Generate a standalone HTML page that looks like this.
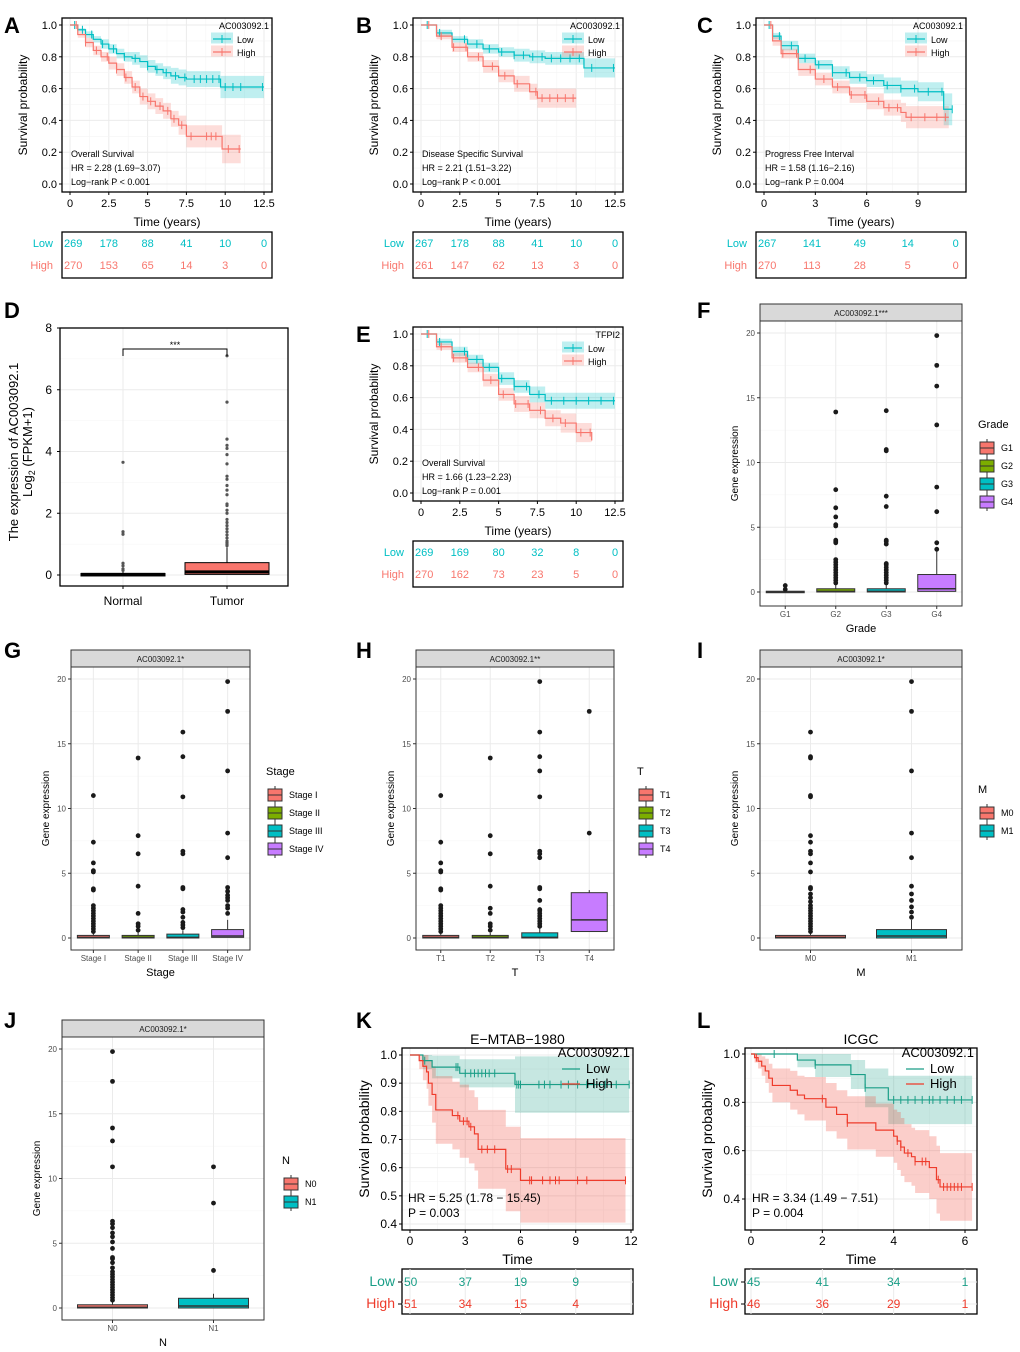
<!DOCTYPE html>
<html><head><meta charset="utf-8">
<style>
html,body{margin:0;padding:0;background:#fff;}
svg{display:block;font-family:"Liberation Sans",Arial,sans-serif;}
</style></head>
<body>
<svg id="fig" width="1020" height="1352" viewBox="0 0 1020 1352" xmlns="http://www.w3.org/2000/svg"></svg>
<script>
// ---------------- DATA ----------------
const A_lowT=[0,0.5,1,1.5,2,2.5,3,3.5,4,4.5,5,5.5,6,6.5,7,7.5,8,9.7,12.5];
const A_lowS=[1,0.97,0.94,0.91,0.88,0.85,0.82,0.8,0.79,0.77,0.74,0.72,0.7,0.68,0.67,0.66,0.66,0.61,0.61];
const A_lowW=[0,0.01,0.02,0.02,0.03,0.03,0.03,0.03,0.04,0.04,0.04,0.04,0.04,0.05,0.05,0.05,0.05,0.07,0.07];
const A_lowC=[0.3,0.8,1.4,2.1,2.8,3.5,4.2,5,5.6,6.2,6.8,7.4,8,8.4,8.8,9.2,9.6,10,10.5,11,12.4];
const A_highT=[0,0.5,1,1.5,2,2.5,3,3.5,4,4.5,5,5.5,6,6.5,7,7.5,9.8,11];
const A_highS=[1,0.94,0.89,0.84,0.8,0.76,0.72,0.67,0.61,0.55,0.52,0.49,0.46,0.41,0.37,0.3,0.22,0.22];
const A_highW=[0,0.02,0.03,0.03,0.03,0.04,0.04,0.04,0.04,0.05,0.05,0.05,0.05,0.05,0.06,0.07,0.09,0.09];
const A_highC=[0.4,1,1.7,2.4,3,3.6,4.2,4.7,5.2,5.8,6.3,6.7,7.2,7.8,8.8,9.1,9.4,10.2,10.9];
const A_riskLow=[269,178,88,41,10,0], A_riskHigh=[270,153,65,14,3,0];
const B_lowT=[0,1,2,3,4,5,6,7,8,10,10.5,12.5];
const B_lowS=[1,0.95,0.91,0.88,0.85,0.83,0.81,0.8,0.79,0.79,0.73,0.73];
const B_lowW=[0,0.02,0.02,0.03,0.03,0.03,0.04,0.04,0.04,0.04,0.06,0.06];
const B_lowC=[0.4,1.2,2,2.8,3.6,4.4,5.2,6,6.6,7.2,7.8,8.4,9,9.6,10.2,11,12.4];
const B_highT=[0,1,2,3,4,5,6,7,7.5,10];
const B_highS=[1,0.93,0.86,0.8,0.74,0.68,0.63,0.58,0.54,0.54];
const B_highW=[0,0.02,0.03,0.03,0.04,0.04,0.05,0.05,0.06,0.06];
const B_highC=[0.5,1.3,2.1,2.9,3.7,4.6,5.4,6.2,7.4,7.8,8.3,8.8,9.3,9.8];
const B_riskLow=[267,178,88,41,10,0], B_riskHigh=[261,147,62,13,3,0];
const C_lowT=[0,0.5,1,2,3,4,5,6,7,8,9,10,10.5,11];
const C_lowS=[1,0.93,0.87,0.79,0.75,0.7,0.67,0.65,0.62,0.6,0.58,0.58,0.47,0.47];
const C_lowW=[0,0.02,0.03,0.03,0.03,0.04,0.04,0.04,0.05,0.05,0.06,0.06,0.1,0.1];
const C_lowC=[0.3,0.9,1.6,2.4,3.2,4,4.8,5.6,6.4,7.2,8,8.8,9.6,10.4,11];
const C_highT=[0,0.5,1,2,3,4,5,6,7,8,8.3,10.8];
const C_highS=[1,0.9,0.82,0.72,0.66,0.61,0.56,0.52,0.48,0.45,0.42,0.42];
const C_highW=[0,0.03,0.03,0.04,0.04,0.04,0.05,0.05,0.05,0.06,0.07,0.07];
const C_highC=[0.4,1.1,1.9,2.7,3.5,4.3,5.1,5.9,6.7,7.3,7.8,8.6,9.4,10.1,10.6];
const C_riskT=[0,2.8,5.6,8.4,11.2];
const C_riskLow=[267,141,49,14,0], C_riskHigh=[270,113,28,5,0];
const E_lowT=[0,1,2,3,4,5,6,7,8,10,12.5];
const E_lowS=[1,0.95,0.89,0.84,0.79,0.72,0.67,0.62,0.58,0.58,0.58];
const E_lowW=[0,0.02,0.03,0.03,0.03,0.04,0.04,0.05,0.05,0.05,0.05];
const E_lowC=[0.4,1.2,2,2.8,3.6,4.4,5.2,6,6.8,7.6,8.4,9.2,10,10.8,11.6,12.4];
const E_highT=[0,1,2,3,4,5,6,7,8,9,10,11];
const E_highS=[1,0.92,0.85,0.79,0.71,0.62,0.56,0.52,0.47,0.44,0.38,0.33];
const E_highW=[0,0.02,0.03,0.03,0.04,0.04,0.05,0.05,0.05,0.06,0.06,0.07];
const E_highC=[0.5,1.3,2.1,2.9,3.7,4.5,5.3,6.1,6.9,7.7,8.5,9.3,10.3,10.9];
const E_riskLow=[269,169,80,32,8,0], E_riskHigh=[270,162,73,23,5,0];
const K_lowT=[0,0.7,1.2,2.7,5.7,11.9];
const K_lowS=[1,0.98,0.957,0.935,0.895,0.895];
const K_lowW=[0,0.03,0.04,0.05,0.1,0.1];
const K_lowC=[0.8,2.5,2.6,3,3.3,3.5,3.7,3.9,4.1,4.3,4.6,5.8,5.9,6,7,7.3,7.6,8.2,8.6,9.1,9.6,10,10.6,11.2,11.9];
const K_highT=[0,0.5,0.7,0.9,1,1.2,1.4,2.3,2.7,3.2,3.5,3.7,5.2,6,11.7];
const K_highS=[1,0.98,0.96,0.94,0.9,0.86,0.805,0.785,0.765,0.745,0.72,0.665,0.595,0.555,0.555];
const K_highW=[0,0.03,0.05,0.06,0.08,0.1,0.12,0.12,0.13,0.13,0.13,0.14,0.15,0.15,0.15];
const K_highC=[2.6,2.9,3.1,3.3,3.9,4.2,4.6,5.3,5.5,6.5,6.6,7.2,7.6,7.9,8.1,9.1,9.6,11.7];
const K_riskT=[0,3,6,9];
const K_riskLow=[50,37,19,9], K_riskHigh=[51,34,15,4];
const L_lowT=[0,1.3,1.8,2.8,3.2,3.85,6.2];
const L_lowS=[1,0.975,0.955,0.915,0.86,0.81,0.81];
const L_lowW=[0,0.03,0.05,0.06,0.08,0.1,0.1];
const L_lowC=[0.65,1.8,3.2,4,4.2,4.4,4.6,4.8,5,5.1,5.3,5.5,5.7,5.9,6.2];
const L_highT=[0,0.1,0.2,0.3,0.4,0.5,0.6,1.1,1.3,1.5,2.1,2.4,2.7,3.5,4,4.1,4.2,4.3,4.5,4.6,5,5.2,5.3,6.2];
const L_highS=[1,0.985,0.97,0.95,0.93,0.9,0.87,0.85,0.83,0.815,0.78,0.75,0.715,0.685,0.66,0.64,0.615,0.59,0.575,0.555,0.53,0.48,0.45,0.45];
const L_highW=[0,0.02,0.03,0.04,0.05,0.06,0.07,0.08,0.08,0.09,0.1,0.1,0.11,0.11,0.11,0.12,0.12,0.12,0.12,0.13,0.13,0.14,0.14,0.14];
const L_highC=[0.15,2,2.7,4.1,4.2,4.4,4.6,4.8,4.9,5.25,5.4,5.5,5.6,5.7,5.8,5.9,6.2];
const L_riskT=[0,2,4,6];
const L_riskLow=[45,41,34,1], L_riskHigh=[46,36,29,1];

const D_groups=['Normal','Tumor'];
const D_q1=[0,0.02], D_med=[0.02,0.1], D_q3=[0.05,0.4], D_whi=[0.12,0.9];
const D_out=[[0.15,0.2,0.3,0.38,1.32,1.4,3.65],[0.95,1,1.05,1.1,1.2,1.3,1.4,1.5,1.6,1.7,1.8,2,2.1,2.25,2.3,2.6,2.75,2.9,3.1,3.2,3.6,3.9,4.1,4.2,4.4,5.6,7.1]];
const F_groups=['G1','G2','G3','G4'];
const F_q1=[0,0,0,0.05], F_med=[0.02,0.05,0.05,0.25], F_q3=[0.06,0.25,0.25,1.35], F_whi=[0.1,0.6,0.6,3.2];
const F_out=[[0.2,0.5],[0.7,0.9,1.1,1.3,1.5,1.7,1.9,2.1,2.3,2.5,3.8,3.9,4,5.1,5.2,5.8,6.5,7.9,13.9],[0.7,0.9,1.1,1.3,1.5,1.7,1.9,2.1,2.2,3.7,3.9,4,6.6,7.4,10.9,11,14],[3.3,3.8,6.2,8.1,12.9,15.9,17.5,19.8]];
const G_groups=['Stage I','Stage II','Stage III','Stage IV'];
const G_q1=[0,0,0,0.05], G_med=[0.05,0.05,0.05,0.15], G_q3=[0.2,0.2,0.3,0.65], G_whi=[0.45,0.45,0.6,1.4];
const G_out=[[0.5,0.7,0.9,1.1,1.3,1.5,1.7,1.9,2.1,2.3,2.5,3.7,3.8,5.1,5.2,5.8,7.4,11],[0.6,0.9,1.1,1.9,4,6.5,7.9,13.9],[0.8,1,1.2,1.6,2,2.2,3.8,3.9,6.5,6.7,10.9,14,15.9],[1.9,2.3,2.5,2.9,3.1,3.3,3.6,3.9,6.2,8.1,12.9,17.5,19.8]];
const H_groups=['T1','T2','T3','T4'];
const H_q1=[0,0,0,0.5], H_med=[0.05,0.05,0.05,1.4], H_q3=[0.2,0.2,0.4,3.5], H_whi=[0.45,0.4,0.85,3.7];
const H_out=[[0.5,0.7,0.9,1.1,1.3,1.5,1.7,1.9,2.1,2.3,2.5,3.7,3.8,5.1,5.2,5.8,7.4,11],[0.6,0.9,1.1,1.9,2.3,4,6.5,7.9,13.9],[0.9,1.1,1.3,1.5,1.7,1.9,2.1,2.2,2.9,3.8,3.9,6.2,6.5,6.7,10.9,12.9,14,15.9,19.8],[8.1,17.5]];
const I_groups=['M0','M1'];
const I_q1=[0,0], I_med=[0.05,0.15], I_q3=[0.2,0.65], I_whi=[0.45,1.4];
const I_out=[[0.5,0.7,0.9,1.1,1.3,1.5,1.7,1.9,2.1,2.3,2.5,2.8,3.1,3.4,3.8,3.9,5.1,5.8,6.5,6.7,7.4,7.9,10.9,11,13.9,14,15.9],[1.6,2,2.4,2.9,3.4,4,6.2,8.1,12.9,17.5,19.8]];
const J_groups=['N0','N1'];
const J_q1=[0,0], J_med=[0.05,0.15], J_q3=[0.25,0.75], J_whi=[0.55,1.1];
const J_out=[[0.6,0.8,1,1.2,1.4,1.6,1.8,2,2.2,2.4,2.6,2.8,3.1,3.5,3.8,3.9,4.6,5.1,5.5,5.8,6.2,6.5,6.7,10.9,12.9,13.9,17.5,19.8],[2.9,8.1,10.9]];

// ---------------- HELPERS ----------------
const NS='http://www.w3.org/2000/svg';
const svg=document.getElementById('fig');
function mk(tag,attrs,parent){const e=document.createElementNS(NS,tag);for(const k in attrs)e.setAttribute(k,attrs[k]);(parent||svg).appendChild(e);return e;}
function lin(d0,d1,r0,r1){return v=>r0+(v-d0)*(r1-r0)/(d1-d0);}
function txt(x,y,s,size,fill,anchor,parent,extra){const t=mk('text',Object.assign({x:x,y:y,'font-size':size,fill:fill||'#000','text-anchor':anchor||'start'},extra||{}),parent);t.textContent=s;return t;}
function stepPath(T,S,X,Y){let d='M'+X(T[0])+','+Y(S[0]);for(let i=1;i<T.length;i++){d+='H'+X(T[i])+'V'+Y(S[i]);}return d;}
function stepPts(T,V,X,Y){const p=[[X(T[0]),Y(V[0])]];for(let i=1;i<T.length;i++){p.push([X(T[i]),Y(V[i-1])]);p.push([X(T[i]),Y(V[i])]);}return p;}
function bandPath(T,S,W,X,Y,lo){
  const up=S.map((s,i)=>Math.min(1,s+W[i])), dn=S.map((s,i)=>Math.max(lo,s-W[i]));
  const a=stepPts(T,up,X,Y), b=stepPts(T,dn,X,Y).reverse();
  return 'M'+a.concat(b).map(p=>p[0].toFixed(1)+','+p[1].toFixed(1)).join('L')+'Z';}
function survAt(T,S,t){let s=S[0];for(let i=0;i<T.length;i++){if(T[i]<=t)s=S[i];}return s;}
function letter(x,y,s){const t=txt(x,y,s,22,'#000','start');t.setAttribute('font-weight','bold');}

function km(c){
  const g=mk('g',{});
  
  
  const X=lin(c.xd[0],c.xd[1],c.xr[0],c.xr[1]), Y=lin(c.yd[0],c.yd[1],c.yr[0],c.yr[1]);
  const b=c.box;
  c.xt.forEach((v,i)=>{mk('line',{x1:X(v),x2:X(v),y1:b[1],y2:b[3],stroke:'#ebebeb','stroke-width':1},g); if(i<c.xt.length-1)mk('line',{x1:X((v+c.xt[i+1])/2),x2:X((v+c.xt[i+1])/2),y1:b[1],y2:b[3],stroke:'#f4f4f4','stroke-width':0.6},g);});
  c.yt.forEach((v,i)=>{mk('line',{x1:b[0],x2:b[2],y1:Y(v),y2:Y(v),stroke:'#ebebeb','stroke-width':1},g); if(i<c.yt.length-1)mk('line',{x1:b[0],x2:b[2],y1:Y((v+c.yt[i+1])/2),y2:Y((v+c.yt[i+1])/2),stroke:'#f4f4f4','stroke-width':0.6},g);});
  const grpL=c.groups;
  grpL.forEach(gr=>{
    const band=mk('path',{d:bandPath(gr.T,gr.S,gr.W,X,Y,c.yd[0]>0?c.yd[0]-0.15:0),fill:gr.col,'fill-opacity':0.25,stroke:'none'},g);
    
    
  });
  grpL.forEach(gr=>{
    const p=mk('path',{d:stepPath(gr.T,gr.S,X,Y),fill:'none',stroke:gr.col,'stroke-width':1.2},g);
    
    
    gr.C.forEach(t=>{const y=Y(survAt(gr.T,gr.S,t));const m=mk('line',{x1:X(t),x2:X(t),y1:y-4,y2:y+4,stroke:gr.col,'stroke-width':1},g);
      
      });
  });
  const fr=mk('rect',{x:b[0],y:b[1],width:b[2]-b[0],height:b[3]-b[1],fill:'none',stroke:'#000','stroke-width':1.3},g);
  
  
  c.xt.forEach((v,i)=>{mk('line',{x1:X(v),x2:X(v),y1:b[3],y2:b[3]+3,stroke:'#000'},g);const t=txt(X(v),b[3]+15,c.xl[i],c.tf,'#000','middle',g);});
  c.yt.forEach((v,i)=>{mk('line',{x1:b[0]-3,x2:b[0],y1:Y(v),y2:Y(v),stroke:'#000'},g);const t=txt(b[0]-5,Y(v)+4,c.yl[i],c.tf,'#000','end',g);});
  const yt=txt(0,0,'Survival probability',c.af,'#000','middle',g,{transform:'translate('+c.ytx+','+((b[1]+b[3])/2)+') rotate(-90)'});
  
  const xt=txt((b[0]+b[2])/2,c.xty,c.xtitle,c.af,'#000','middle',g);
  
  if(c.title){const tt=txt((b[0]+b[2])/2,b[1]-4,c.title,14,'#000','middle',g);}
  const lx=c.leg[0], ly=c.leg[1];
  const lt=txt(b[2]-3,ly,c.legTitle,c.lf,'#000','end',g);
  grpL.forEach((gr,i)=>{const yy=ly+c.lgap*(i+1);
    if(c.legBand)mk('rect',{x:lx,y:yy-c.lgap/2-3,width:22,height:c.lgap-2,fill:gr.col,'fill-opacity':0.25},g);
    mk('line',{x1:lx+2,x2:lx+20,y1:yy-3,y2:yy-3,stroke:gr.col,'stroke-width':1.2},g);
    if(c.legBand)mk('line',{x1:lx+11,x2:lx+11,y1:yy-7,y2:yy+1,stroke:gr.col},g);
    const e=txt(lx+26,yy+1,gr.label,c.lf,'#000','start',g);});
  c.notes.forEach((n,i)=>{const t=txt(c.noteX,c.noteY+i*c.noteGap,n,c.nf,'#000','start',g);});
  const r=c.risk;
  const rt=mk('rect',{x:b[0],y:r.y0,width:b[2]-b[0],height:r.y1-r.y0,fill:'none',stroke:'#000','stroke-width':1.3},g);
  
  if(r.grid){c.xt.forEach(v=>mk('line',{x1:X(v),x2:X(v),y1:r.y0,y2:r.y1,stroke:'#ebebeb'},g));}
  grpL.forEach((gr,i)=>{const yy=r.rows[i];
    if(r.grid)mk('line',{x1:b[0],x2:b[2],y1:yy-4,y2:yy-4,stroke:'#ebebeb'},g);
    if(r.tick)mk('line',{x1:b[0]-4,x2:b[0],y1:yy-4,y2:yy-4,stroke:'#000'},g);
    const lb=txt(r.lx,yy,gr.label,r.lf,gr.col,'end',g);
    gr.R.forEach((n,j)=>{const t=txt(X(r.T[j]),yy,String(n),r.nf,gr.col,'middle',g);
      if(j===0){t.setAttribute('text-anchor','start');t.setAttribute('x',b[0]+2);}
      });
  });
}

const cLow='#00BFC4', cHigh='#F8766D', kLow='#1a9e87', kHigh='#ee3b2b';
const stdX=[0,2.5,5,7.5,10,12.5], stdXL=['0','2.5','5','7.5','10','12.5'];
const stdY=[0,0.2,0.4,0.6,0.8,1], stdYL=['0.0','0.2','0.4','0.6','0.8','1.0'];
function tcga(name,dx,dy,xd,xr,xt,xl,groups,notes,riskT,legTitle){
  km({name:name,box:[62+dx,18+dy,272+dx,192+dy],xd:xd,xr:[xr[0]+dx,xr[1]+dx],yd:[0,1],yr:[184+dy,25+dy],
    xt:xt,xl:xl,yt:stdY,yl:stdYL,tf:11,af:12,ytx:27+dx,xty:226+dy,xtitle:'Time (years)',
    leg:[211+dx,29+dy],legTitle:legTitle,lgap:13,lf:9,legBand:true,
    notes:notes,noteX:71+dx,noteY:157+dy,noteGap:14,nf:9,groups:groups,
    risk:{y0:232+dy,y1:278+dy,rows:[247+dy,269+dy],lx:53+dx,lf:11,nf:11,T:riskT}});
}
tcga('km-panel-a',0,0,[0,12.5],[70,264],stdX,stdXL,
  [{key:'low',label:'Low',col:cLow,T:A_lowT,S:A_lowS,W:A_lowW,C:A_lowC,R:A_riskLow},{key:'high',label:'High',col:cHigh,T:A_highT,S:A_highS,W:A_highW,C:A_highC,R:A_riskHigh}],
  ['Overall Survival','HR = 2.28 (1.69\u22123.07)','Log\u2212rank P < 0.001'],stdX,'AC003092.1');
tcga('km-panel-b',351,0,[0,12.5],[70,264],stdX,stdXL,
  [{key:'low',label:'Low',col:cLow,T:B_lowT,S:B_lowS,W:B_lowW,C:B_lowC,R:B_riskLow},{key:'high',label:'High',col:cHigh,T:B_highT,S:B_highS,W:B_highW,C:B_highC,R:B_riskHigh}],
  ['Disease Specific Survival','HR = 2.21 (1.51\u22123.22)','Log\u2212rank P < 0.001'],stdX,'AC003092.1');
tcga('km-panel-c',694,0,[0,9],[70,224],[0,3,6,9],['0','3','6','9'],
  [{key:'low',label:'Low',col:cLow,T:C_lowT,S:C_lowS,W:C_lowW,C:C_lowC,R:C_riskLow},{key:'high',label:'High',col:cHigh,T:C_highT,S:C_highS,W:C_highW,C:C_highC,R:C_riskHigh}],
  ['Progress Free Interval','HR = 1.58 (1.16\u22122.16)','Log\u2212rank P = 0.004'],C_riskT,'AC003092.1');
tcga('km-panel-e',351,309,[0,12.5],[70,264],stdX,stdXL,
  [{key:'low',label:'Low',col:cLow,T:E_lowT,S:E_lowS,W:E_lowW,C:E_lowC,R:E_riskLow},{key:'high',label:'High',col:cHigh,T:E_highT,S:E_highS,W:E_highW,C:E_highC,R:E_riskHigh}],
  ['Overall Survival','HR = 1.66 (1.23\u22122.23)','Log\u2212rank P = 0.001'],stdX,'TFPI2');

km({name:'km-panel-k',title:'E\u2212MTAB\u22121980',box:[402,1048,633,1230],xd:[0,12],xr:[410,631],yd:[0.4,1],yr:[1224,1055],
  xt:[0,3,6,9,12],xl:['0','3','6','9','12'],yt:[0.4,0.5,0.6,0.7,0.8,0.9,1],yl:['0.4','0.5','0.6','0.7','0.8','0.9','1.0'],tf:12,af:14,ytx:369,xty:1264,xtitle:'Time',
  leg:[560,1057],legTitle:'AC003092.1',lgap:15,lf:13,legBand:false,
  notes:['HR = 5.25 (1.78 \u2212 15.45)','P = 0.003'],noteX:408,noteY:1202,noteGap:15,nf:12,
  groups:[{key:'low',label:'Low',col:kLow,T:K_lowT,S:K_lowS,W:K_lowW,C:K_lowC,R:K_riskLow},{key:'high',label:'High',col:kHigh,T:K_highT,S:K_highS,W:K_highW,C:K_highC,R:K_riskHigh}],
  risk:{y0:1269,y1:1314,rows:[1286,1308],lx:395,lf:14,nf:12,T:K_riskT,grid:true,tick:true}});
km({name:'km-panel-l',title:'ICGC',box:[745,1048,977,1230],xd:[0,6],xr:[751,965],yd:[0.4,1],yr:[1199,1054],
  xt:[0,2,4,6],xl:['0','2','4','6'],yt:[0.4,0.6,0.8,1],yl:['0.4','0.6','0.8','1.0'],tf:12,af:14,ytx:712,xty:1264,xtitle:'Time',
  leg:[904,1057],legTitle:'AC003092.1',lgap:15,lf:13,legBand:false,
  notes:['HR = 3.34 (1.49 \u2212 7.51)','P = 0.004'],noteX:752,noteY:1202,noteGap:15,nf:12,
  groups:[{key:'low',label:'Low',col:kLow,T:L_lowT,S:L_lowS,W:L_lowW,C:L_lowC,R:L_riskLow},{key:'high',label:'High',col:kHigh,T:L_highT,S:L_highS,W:L_highW,C:L_highC,R:L_riskHigh}],
  risk:{y0:1269,y1:1314,rows:[1286,1308],lx:738,lf:14,nf:12,T:L_riskT,grid:true,tick:true}});

// ---------- BOXPLOTS ----------
const pal4=['#F8766D','#7CAE00','#00BFC4','#C77CFF'], pal2=['#F8766D','#00BFC4'];
function bx(c){
  const g=mk('g',{});
  
  
  const p=c.plot;
  const Y=lin(0,20,c.y0,c.y20);
  const n=c.groups.length;
  const X=i=>p[0]+(p[2]-p[0])*(i+0.5)/n;
  [0,5,10,15,20].forEach(v=>mk('line',{x1:p[0],x2:p[2],y1:Y(v),y2:Y(v),stroke:'#ebebeb'},g));
  [2.5,7.5,12.5,17.5].forEach(v=>mk('line',{x1:p[0],x2:p[2],y1:Y(v),y2:Y(v),stroke:'#f5f5f5','stroke-width':0.6},g));
  c.groups.forEach((gn,i)=>mk('line',{x1:X(i),x2:X(i),y1:p[1],y2:p[3],stroke:'#ebebeb'},g));
  const st=mk('rect',{x:p[0],y:p[1]-17,width:p[2]-p[0],height:17,fill:'#d9d9d9',stroke:'#333','stroke-width':1},g);
  
  const stt=txt((p[0]+p[2])/2,p[1]-5,c.strip,8,'#1a1a1a','middle',g);
  
  c.groups.forEach((gn,i)=>{
    const cx=X(i), w=c.bw;
    const wh=mk('line',{x1:cx,x2:cx,y1:Y(c.q3[i]),y2:Y(c.whi[i]),stroke:'#333','stroke-width':1},g);
    
    const h=Math.max(1.5,Y(c.q1[i])-Y(c.q3[i]));
    const r=mk('rect',{x:cx-w/2,y:Y(c.q3[i]),width:w,height:h,fill:c.pal[i],stroke:'#333','stroke-width':1},g);
    
    mk('line',{x1:cx-w/2,x2:cx+w/2,y1:Y(c.med[i]),y2:Y(c.med[i]),stroke:'#333','stroke-width':1.5},g);
    c.out[i].forEach(v=>{const d=mk('circle',{cx:cx,cy:Y(v),r:2.4,fill:'#1a1a1a'},g);
      });
    const tl=txt(cx,p[3]+11,gn,8,'#4d4d4d','middle',g);
    
    mk('line',{x1:cx,x2:cx,y1:p[3],y2:p[3]+3,stroke:'#333'},g);
  });
  const fr=mk('rect',{x:p[0],y:p[1],width:p[2]-p[0],height:p[3]-p[1],fill:'none',stroke:'#333','stroke-width':1},g);
  
  [0,5,10,15,20].forEach(v=>{mk('line',{x1:p[0]-3,x2:p[0],y1:Y(v),y2:Y(v),stroke:'#333'},g);const t=txt(p[0]-5,Y(v)+3,String(v),8,'#4d4d4d','end',g);});
  const yt=txt(0,0,'Gene expression',10,'#000','middle',g,{transform:'translate('+(p[0]-22)+','+((p[1]+p[3])/2)+') rotate(-90)'});
  
  const xt=txt((p[0]+p[2])/2,p[3]+26,c.xtitle,11,'#000','middle',g);
  
  const lt=txt(c.leg[0],c.leg[1],c.xtitle,11,'#000','start',g);
  
  c.groups.forEach((gn,i)=>{const yy=c.leg[1]+20+i*18;
    mk('line',{x1:c.leg[0]+9,x2:c.leg[0]+9,y1:yy-9,y2:yy+9,stroke:'#333'},g);
    mk('rect',{x:c.leg[0]+2,y:yy-6,width:14,height:12,fill:c.pal[i],stroke:'#333'},g);
    mk('line',{x1:c.leg[0]+2,x2:c.leg[0]+16,y1:yy,y2:yy,stroke:'#333'},g);
    const e=txt(c.leg[0]+23,yy+3,gn,9,'#000','start',g);
    });
}
bx({name:'boxplot-panel-f',plot:[760,321,962,606],y0:592,y20:333,bw:38,groups:F_groups,q1:F_q1,med:F_med,q3:F_q3,whi:F_whi,out:F_out,pal:pal4,strip:'AC003092.1***',xtitle:'Grade',leg:[978,428]});
bx({name:'boxplot-panel-g',plot:[71,667,250,950],y0:938,y20:679,bw:32,groups:G_groups,q1:G_q1,med:G_med,q3:G_q3,whi:G_whi,out:G_out,pal:pal4,strip:'AC003092.1*',xtitle:'Stage',leg:[266,775]});
bx({name:'boxplot-panel-h',plot:[416,667,614,950],y0:938,y20:679,bw:36,groups:H_groups,q1:H_q1,med:H_med,q3:H_q3,whi:H_whi,out:H_out,pal:pal4,strip:'AC003092.1**',xtitle:'T',leg:[637,775]});
bx({name:'boxplot-panel-i',plot:[760,667,962,950],y0:938,y20:679,bw:70,groups:I_groups,q1:I_q1,med:I_med,q3:I_q3,whi:I_whi,out:I_out,pal:pal2,strip:'AC003092.1*',xtitle:'M',leg:[978,793]});
bx({name:'boxplot-panel-j',plot:[62,1037,264,1320],y0:1308,y20:1049,bw:70,groups:J_groups,q1:J_q1,med:J_med,q3:J_q3,whi:J_whi,out:J_out,pal:pal2,strip:'AC003092.1*',xtitle:'N',leg:[282,1164]});

(function(){
  const g=mk('g',{});
  
  
  const p=[60,328,288,586];
  const Y=lin(0,8,575,328);
  const X=i=>123+i*104;
  [0,2,4,6,8].forEach(v=>mk('line',{x1:p[0],x2:p[2],y1:Y(v),y2:Y(v),stroke:'#ebebeb'},g));
  [1,3,5,7].forEach(v=>mk('line',{x1:p[0],x2:p[2],y1:Y(v),y2:Y(v),stroke:'#f4f4f4','stroke-width':0.6},g));
  D_groups.forEach((gn,i)=>mk('line',{x1:X(i),x2:X(i),y1:p[1],y2:p[3],stroke:'#ebebeb'},g));
  const fills=['#000000','#F8766D'];
  D_groups.forEach((gn,i)=>{
    const cx=X(i), w=84;
    mk('line',{x1:cx,x2:cx,y1:Y(D_q3[i]),y2:Y(D_whi[i]),stroke:'#000'},g);
    const r=mk('rect',{x:cx-w/2,y:Y(D_q3[i]),width:w,height:Math.max(2.5,Y(D_q1[i])-Y(D_q3[i])),fill:fills[i],stroke:'#000','stroke-width':1},g);
    
    mk('line',{x1:cx-w/2,x2:cx+w/2,y1:Y(D_med[i]),y2:Y(D_med[i]),stroke:'#000','stroke-width':3},g);
    D_out[i].forEach(v=>{const d=mk('circle',{cx:cx,cy:Y(v),r:1.6,fill:'#555'},g);
      });
    mk('line',{x1:cx,x2:cx,y1:p[3],y2:p[3]+3,stroke:'#000'},g);
    const t=txt(cx,p[3]+19,gn,12,'#000','middle',g);
    
  });
  const fr=mk('rect',{x:p[0],y:p[1],width:p[2]-p[0],height:p[3]-p[1],fill:'none',stroke:'#000','stroke-width':1.3},g);
  
  [0,2,4,6,8].forEach(v=>{mk('line',{x1:p[0]-3,x2:p[0],y1:Y(v),y2:Y(v),stroke:'#000'},g);const t=txt(p[0]-8,Y(v)+4,String(v),12,'#000','end',g);});
  const br=mk('path',{d:'M123,356V349H227V356',fill:'none',stroke:'#000','stroke-width':1},g);
  
  const s=txt(175,348,'***',9,'#000','middle',g);
  
  const y1=txt(0,0,'The expression of AC003092.1',13,'#000','middle',g,{transform:'translate(18,452) rotate(-90)'});
  
  const y2=mk('text',{transform:'translate(32,452) rotate(-90)','font-size':13,'text-anchor':'middle',fill:'#000'},g);
  y2.innerHTML='Log<tspan font-size="9" dy="3">2</tspan><tspan dy="-3"> (FPKM+1)</tspan>';
  
})();

letter(4,33,'A');letter(356,33,'B');letter(697,33,'C');letter(4,318,'D');letter(356,342,'E');letter(697,318,'F');
letter(4,658,'G');letter(356,658,'H');letter(697,658,'I');letter(4,1028,'J');letter(356,1028,'K');letter(697,1028,'L');
</script>
</body></html>
